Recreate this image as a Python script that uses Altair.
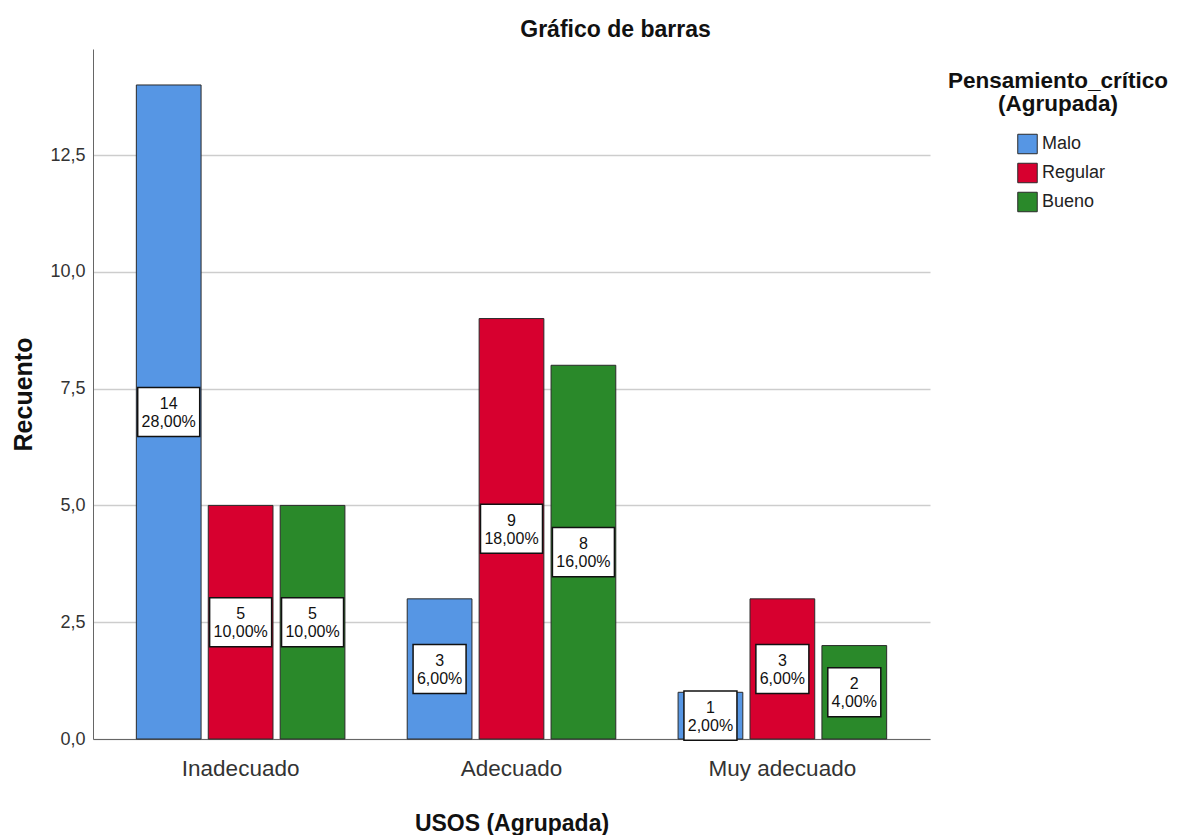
import altair as alt
import pandas as pd

# ---- data ----
usos = ["Inadecuado", "Adecuado", "Muy adecuado"]
grupos = ["Malo", "Regular", "Bueno"]
recuento_malo = [14, 3, 1]
recuento_regular = [5, 9, 3]
recuento_bueno = [5, 8, 2]
porc_malo = [28.0, 6.0, 2.0]
porc_regular = [10.0, 18.0, 6.0]
porc_bueno = [10.0, 16.0, 4.0]
y_ticks = [0, 2.5, 5, 7.5, 10, 12.5]

colores = ["#5696E4", "#D7002F", "#2A892A"]
FONT = "Liberation Sans"

rows = []
for g, cnts, pcts in zip(grupos,
                         [recuento_malo, recuento_regular, recuento_bueno],
                         [porc_malo, porc_regular, porc_bueno]):
    for u, c, p in zip(usos, cnts, pcts):
        rows.append({"usos": u, "grupo": g, "n": c, "pct": p})
df = pd.DataFrame(rows)

y_scale = alt.Scale(domain=[0, 14.77], nice=False, zero=True)
y_axis = alt.Axis(
    title="Recuento", values=y_ticks,
    labelExpr="replace(format(datum.value, '.1f'), '.', ',')",
    labelFont=FONT, labelFontSize=18, labelColor="#333333", labelPadding=8,
    ticks=False, domainColor="#666666", domainWidth=1,
    grid=True, gridColor="#CDCDCD", gridWidth=1.5,
    titleFont=FONT, titleFontSize=25, titleFontWeight="bold", titleColor="#111111",
    titlePadding=13,
)
x_enc = alt.X(
    "usos:N", sort=usos,
    scale=alt.Scale(paddingInner=0.23, paddingOuter=0.16),
    axis=alt.Axis(
        title="USOS (Agrupada)", labelAngle=0,
        labelFont=FONT, labelFontSize=22.5, labelColor="#333333", labelPadding=18,
        ticks=False, domainColor="#666666", domainWidth=1, grid=False,
        titleFont=FONT, titleFontSize=23, titleFontWeight="bold", titleColor="#111111",
        titlePadding=33,
    ),
)
xoff_enc = alt.XOffset("grupo:N", sort=grupos,
                       scale=alt.Scale(paddingInner=0.1, paddingOuter=0))

base = alt.Chart(df).encode(x=x_enc, xOffset=xoff_enc)

bars = base.mark_bar(stroke="#2a2a2a", strokeWidth=1).encode(
    y=alt.Y("n:Q", scale=y_scale, axis=y_axis),
    color=alt.Color(
        "grupo:N", sort=grupos,
        scale=alt.Scale(domain=grupos, range=colores),
        legend=alt.Legend(
            orient="none", legendX=855, legendY=21,
            title=["Pensamiento_crítico", "(Agrupada)"],
            titleFont=FONT, titleFontSize=22.5, titleFontWeight="bold", titleColor="#111111",
            titleAlign="center", titleAnchor="middle", titleLineHeight=23,
            titlePadding=18, titleLimit=400,
            labelFont=FONT, labelFontSize=18, labelColor="#222222",
            symbolType="square", symbolSize=380, symbolStrokeColor="#2a2a2a",
            symbolStrokeWidth=1, symbolOpacity=1,
            symbolOffset=7, labelOffset=4, rowPadding=4,
        ),
    ),
)

box_calc = dict(y1="datum.n / 2 - 0.525", y2="datum.n / 2 + 0.525")

boxes_wide = base.transform_filter("datum.pct >= 10").transform_calculate(**box_calc).mark_bar(
    width=62, fill="white", stroke="#111111", strokeWidth=1.5
).encode(y=alt.Y("y1:Q", scale=y_scale, axis=y_axis), y2="y2:Q")

boxes_narrow = base.transform_filter("datum.pct < 10").transform_calculate(**box_calc).mark_bar(
    width=53, fill="white", stroke="#111111", strokeWidth=1.5
).encode(y=alt.Y("y1:Q", scale=y_scale, axis=y_axis), y2="y2:Q")

labels = base.transform_calculate(
    mid="datum.n / 2",
    label="toString(datum.n) + '\\n' + replace(format(datum.pct, '.2f'), '.', ',') + '%'",
).mark_text(
    lineBreak="\n", font=FONT, fontSize=16, lineHeight=18, color="#111111",
    baseline="middle", align="center", dy=-8,
).encode(y=alt.Y("mid:Q", scale=y_scale, axis=y_axis), text="label:N")

chart = alt.layer(bars, boxes_wide, boxes_narrow, labels).properties(
    width=837, height=690,
    title=alt.TitleParams(
        "Gráfico de barras", font=FONT, fontSize=23, fontWeight="bold",
        color="#111111", anchor="middle", dx=104, offset=7,
    ),
    padding={"left": 3, "top": 11, "right": 0, "bottom": 0},
).configure_view(stroke=None)

chart.save("out.html", embed_options={"renderer": "svg", "actions": False})
